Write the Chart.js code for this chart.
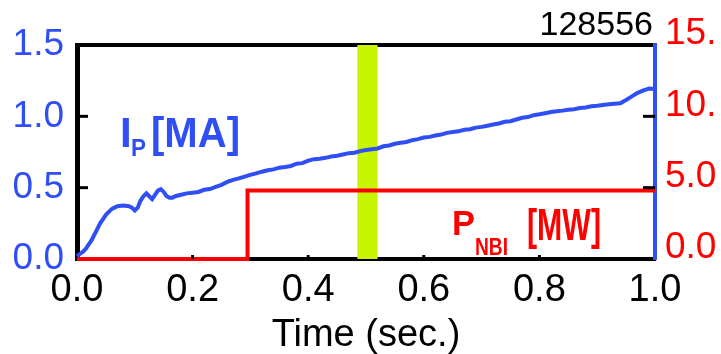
<!DOCTYPE html>
<html>
<head>
<meta charset="utf-8">
<script src="https://cdn.jsdelivr.net/npm/chart.js@4.4.0/dist/chart.umd.min.js"></script>
<style>
  html, body { margin: 0; padding: 0; background: #fff; }
  #wrap { width: 721px; height: 354px; }
</style>
</head>
<body>
<div id="wrap"><canvas id="chart" width="721" height="354"></canvas></div>
<script>
// plasma current Ip [MA] vs time [s]
const ipTime = [
  0.000, 0.005, 0.010, 0.015, 0.020, 0.025, 0.030, 0.035, 0.040, 0.045,
  0.050, 0.055, 0.060, 0.065, 0.070, 0.080, 0.090, 0.095, 0.100, 0.105,
  0.110, 0.115, 0.120, 0.125, 0.130, 0.135, 0.140, 0.145, 0.150, 0.155,
  0.160, 0.165, 0.170, 0.180, 0.190, 0.200, 0.210, 0.220, 0.230, 0.240,
  0.250, 0.260, 0.270, 0.280, 0.290, 0.300, 0.310, 0.320, 0.330, 0.340,
  0.350, 0.360, 0.370, 0.380, 0.390, 0.400, 0.410, 0.420, 0.430, 0.440,
  0.450, 0.460, 0.470, 0.480, 0.490, 0.500, 0.510, 0.520, 0.530, 0.540,
  0.550, 0.560, 0.570, 0.580, 0.590, 0.600, 0.610, 0.620, 0.630, 0.640,
  0.650, 0.660, 0.670, 0.680, 0.690, 0.700, 0.710, 0.720, 0.730, 0.740,
  0.750, 0.760, 0.770, 0.780, 0.790, 0.800, 0.810, 0.820, 0.830, 0.840,
  0.850, 0.860, 0.870, 0.880, 0.890, 0.900, 0.910, 0.920, 0.930, 0.940,
  0.950, 0.960, 0.970, 0.980, 0.990, 1.000
];
const ipValues = [
  0.020, 0.035, 0.050, 0.070, 0.100, 0.130, 0.170, 0.210, 0.250, 0.280,
  0.310, 0.330, 0.350, 0.360, 0.370, 0.375, 0.370, 0.360, 0.340, 0.360,
  0.410, 0.440, 0.460, 0.440, 0.420, 0.450, 0.480, 0.490, 0.470, 0.440,
  0.430, 0.430, 0.440, 0.450, 0.460, 0.465, 0.470, 0.485, 0.490, 0.505,
  0.520, 0.540, 0.555, 0.565, 0.578, 0.590, 0.600, 0.612, 0.622, 0.628,
  0.640, 0.645, 0.652, 0.668, 0.672, 0.690, 0.700, 0.703, 0.709, 0.718,
  0.724, 0.733, 0.742, 0.745, 0.756, 0.764, 0.770, 0.775, 0.790, 0.796,
  0.808, 0.815, 0.820, 0.833, 0.840, 0.851, 0.856, 0.866, 0.872, 0.884,
  0.890, 0.895, 0.906, 0.910, 0.921, 0.926, 0.934, 0.943, 0.950, 0.962,
  0.966, 0.978, 0.990, 0.995, 1.008, 1.014, 1.022, 1.030, 1.036, 1.040,
  1.046, 1.050, 1.058, 1.062, 1.070, 1.074, 1.080, 1.084, 1.088, 1.092,
  1.115, 1.140, 1.165, 1.182, 1.195, 1.192
];

// neutral beam power P_NBI [MW]
const nbiTime = [0.0, 0.295, 0.295, 1.0];
const nbiValues = [0.0, 0.0, 4.8, 4.8];

// highlighted time window
const bandStart = 0.485;
const bandEnd = 0.52;

const timeTicks = [0.0, 0.2, 0.4, 0.6, 0.8, 1.0];
const ipTicks = [0.0, 0.5, 1.0, 1.5];
const nbiTickValues = [0, 5, 10, 15];
const nbiTickLabels = ["0.0", "5.0", "10.", "15."];
const shotNumber = "128556";

const BLUE = "#2f4ff5";
const RED = "#ff0000";
const GREEN = "#c8f500";
const FONT = "'Liberation Sans', Arial, Helvetica, sans-serif";

function drawText(ctx, txt, x, y, size, bold, color, width, align) {
  ctx.save();
  ctx.font = (bold ? "bold " : "") + size + "px " + FONT;
  ctx.fillStyle = color;
  ctx.textBaseline = "alphabetic";
  ctx.textAlign = align || "left";
  ctx.translate(x, y);
  if (width) {
    let w = ctx.measureText(txt).width;
    ctx.scale(width / w, 1);
  }
  ctx.fillText(txt, 0, 0);
  ctx.restore();
}

const decor = {
  id: "decor",
  beforeDatasetsDraw(chart) {
    const { ctx, chartArea, scales } = chart;
    let x0 = scales.x.getPixelForValue(bandStart);
    let x1 = scales.x.getPixelForValue(bandEnd);
    ctx.save();
    ctx.fillStyle = GREEN;
    ctx.fillRect(x0, chartArea.top, x1 - x0, chartArea.bottom - chartArea.top);
    ctx.restore();
  },
  afterDraw(chart) {
    const { ctx, chartArea, scales } = chart;
    ctx.save();
    ctx.fillStyle = "#000";
    // inward tick marks
    [0.5, 1.0].forEach(v => {
      let y = scales.y.getPixelForValue(v);
      ctx.fillRect(chartArea.left, y - 1.5, 11, 3);
    });
    [5, 10].forEach(v => {
      let y = scales.y2.getPixelForValue(v);
      ctx.fillRect(chartArea.right - 12, y - 1.5, 12, 3);
    });
    [0.2, 0.4, 0.6, 0.8].forEach(v => {
      let x = scales.x.getPixelForValue(v);
      ctx.fillRect(x - 1.5, chartArea.bottom - 4, 3, 4);
    });
    ctx.restore();

    // labels
    drawText(ctx, "I", 120, 147, 42, true, BLUE, 0);
    drawText(ctx, "P", 131, 156, 24, true, BLUE, 15);
    drawText(ctx, "[MA]", 151, 147, 42, true, BLUE, 89);
    drawText(ctx, "P", 452, 235, 35, true, RED, 23);
    drawText(ctx, "NBI", 475, 255, 24, true, RED, 33);
    drawText(ctx, "[MW]", 527, 240, 44, true, RED, 74);
    drawText(ctx, shotNumber, 653, 35, 34, false, "#000", 0, "right");
  }
};

const ipData = ipTime.map((t, i) => ({ x: t, y: ipValues[i] }));
const nbiData = nbiTime.map((t, i) => ({ x: t, y: nbiValues[i] }));

new Chart(document.getElementById("chart"), {
  type: "line",
  data: {
    datasets: [
      {
        label: "Ip",
        data: ipData,
        yAxisID: "y",
        borderColor: BLUE,
        borderWidth: 4,
        pointRadius: 0,
        tension: 0,
        clip: false
      },
      {
        label: "PNBI",
        data: nbiData,
        yAxisID: "y2",
        borderColor: RED,
        borderWidth: 4,
        pointRadius: 0,
        tension: 0,
        clip: false
      }
    ]
  },
  options: {
    responsive: false,
    animation: false,
    layout: { padding: 0 },
    plugins: { legend: { display: false }, tooltip: { enabled: false } },
    scales: {
      x: {
        type: "linear",
        position: "bottom",
        min: 0, max: 1,
        afterBuildTicks: s => { s.ticks = timeTicks.map(v => ({ value: v })); },
        afterFit: s => { s.height = 95; },
        ticks: {
          color: "#000",
          font: { family: FONT, size: 38 },
          padding: 9,
          maxRotation: 0,
          callback: v => v.toFixed(1)
        },
        grid: { display: false, drawTicks: false },
        border: { display: true, color: "#000", width: 4 },
        title: {
          display: true,
          text: "Time (sec.)",
          color: "#000",
          font: { family: FONT, size: 38 },
          padding: { top: 0, bottom: -4 }
        }
      },
      xTop: {
        type: "linear",
        position: "top",
        min: 0, max: 1,
        afterFit: s => { s.height = 45; },
        ticks: { display: false },
        grid: { display: false, drawTicks: false },
        border: { display: true, color: "#000", width: 4 }
      },
      y: {
        type: "linear",
        position: "left",
        min: 0, max: 1.5,
        afterBuildTicks: s => { s.ticks = ipTicks.map(v => ({ value: v })); },
        afterFit: s => { s.width = 77; },
        ticks: {
          color: BLUE,
          font: { family: FONT, size: 37 },
          padding: 13,
          callback: v => v.toFixed(1)
        },
        grid: { display: false, drawTicks: false },
        border: { display: true, color: "#000", width: 5 }
      },
      y2: {
        type: "linear",
        position: "right",
        min: 0, max: 15,
        afterBuildTicks: s => { s.ticks = nbiTickValues.map(v => ({ value: v })); },
        afterFit: s => { s.width = 66; },
        ticks: {
          color: RED,
          font: { family: FONT, size: 37 },
          padding: 10,
          labelOffset: -11,
          callback: (v, i) => nbiTickLabels[i]
        },
        grid: { display: false, drawTicks: false },
        border: { display: true, color: BLUE, width: 4 }
      }
    }
  },
  plugins: [decor]
});
</script>
</body>
</html>
